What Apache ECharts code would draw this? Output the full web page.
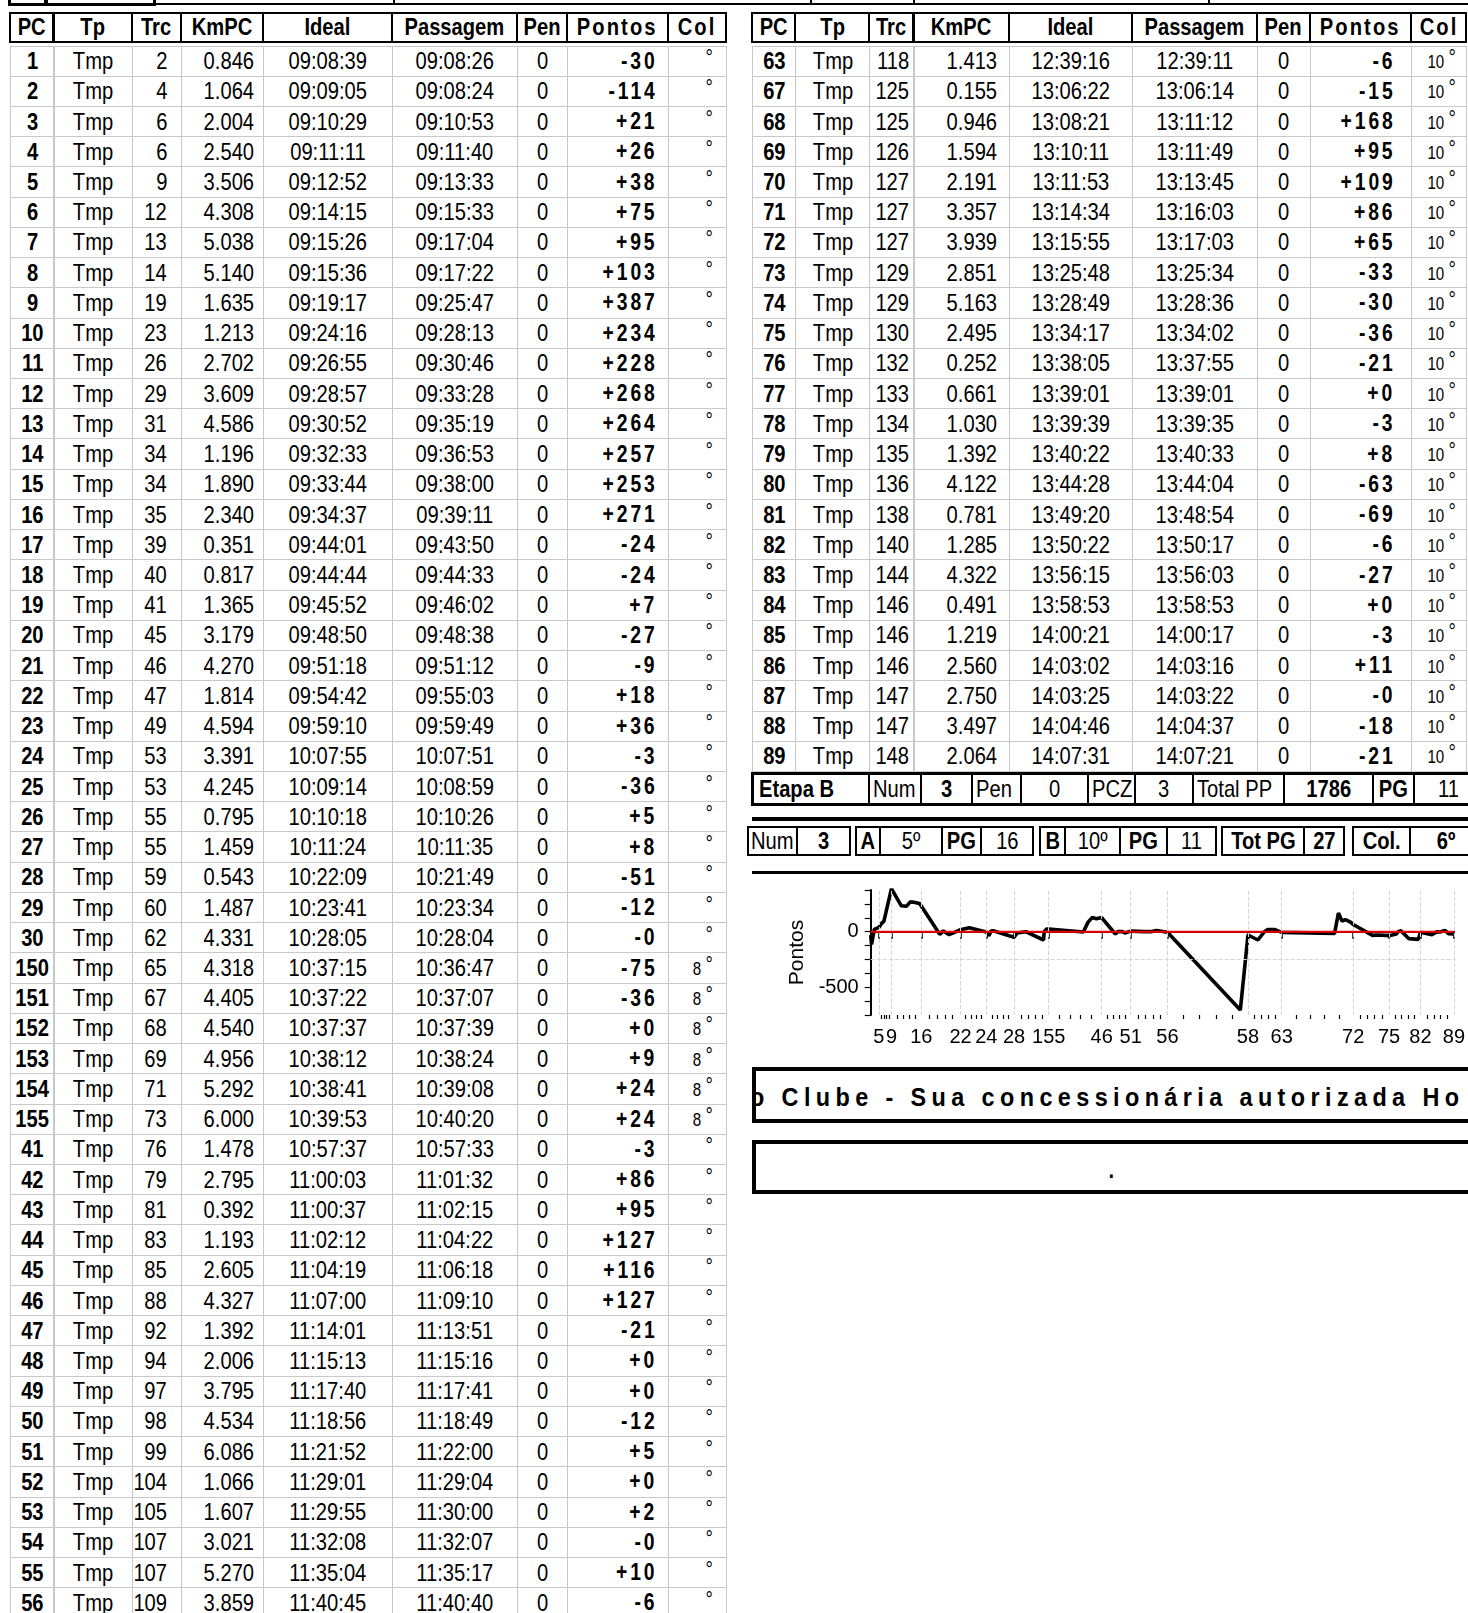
<!DOCTYPE html>
<html><head><meta charset="utf-8">
<script src="https://cdn.jsdelivr.net/npm/echarts/dist/echarts.min.js"></script>
<style>
html,body{margin:0;padding:0;background:#fff;}
body{width:1468px;height:1613px;overflow:hidden;position:relative;font-family:"Liberation Sans",Arial,sans-serif;color:#000;}
.c{position:absolute;box-sizing:border-box;white-space:nowrap;display:flex;align-items:center;}
.t{display:inline-block;flex-shrink:0;line-height:1;}
.ln{position:absolute;background:#000;}
#chart{position:absolute;left:752px;top:874px;width:716px;height:190px;}
</style></head><body>
<div id="chart"></div>
<script>
// ---------------- data ----------------
const headers = ['PC','Tp','Trc','KmPC','Ideal','Passagem','Pen','Pontos','Col'];
const tpText = 'Tmp';
const penText = '0';

const leftPC = [1,2,3,4,5,6,7,8,9,10,11,12,13,14,15,16,17,18,19,20,21,22,23,24,25,26,27,28,29,30,150,151,152,153,154,155,41,42,43,44,45,46,47,48,49,50,51,52,53,54,55,56];
const leftTrc = [2,4,6,6,9,12,13,14,19,23,26,29,31,34,34,35,39,40,41,45,46,47,49,53,53,55,55,59,60,62,65,67,68,69,71,73,76,79,81,83,85,88,92,94,97,98,99,104,105,107,107,109];
const leftKm = ['0.846','1.064','2.004','2.540','3.506','4.308','5.038','5.140','1.635','1.213','2.702','3.609','4.586','1.196','1.890','2.340','0.351','0.817','1.365','3.179','4.270','1.814','4.594','3.391','4.245','0.795','1.459','0.543','1.487','4.331','4.318','4.405','4.540','4.956','5.292','6.000','1.478','2.795','0.392','1.193','2.605','4.327','1.392','2.006','3.795','4.534','6.086','1.066','1.607','3.021','5.270','3.859'];
const leftIdeal = ['09:08:39','09:09:05','09:10:29','09:11:11','09:12:52','09:14:15','09:15:26','09:15:36','09:19:17','09:24:16','09:26:55','09:28:57','09:30:52','09:32:33','09:33:44','09:34:37','09:44:01','09:44:44','09:45:52','09:48:50','09:51:18','09:54:42','09:59:10','10:07:55','10:09:14','10:10:18','10:11:24','10:22:09','10:23:41','10:28:05','10:37:15','10:37:22','10:37:37','10:38:12','10:38:41','10:39:53','10:57:37','11:00:03','11:00:37','11:02:12','11:04:19','11:07:00','11:14:01','11:15:13','11:17:40','11:18:56','11:21:52','11:29:01','11:29:55','11:32:08','11:35:04','11:40:45'];
const leftPass = ['09:08:26','09:08:24','09:10:53','09:11:40','09:13:33','09:15:33','09:17:04','09:17:22','09:25:47','09:28:13','09:30:46','09:33:28','09:35:19','09:36:53','09:38:00','09:39:11','09:43:50','09:44:33','09:46:02','09:48:38','09:51:12','09:55:03','09:59:49','10:07:51','10:08:59','10:10:26','10:11:35','10:21:49','10:23:34','10:28:04','10:36:47','10:37:07','10:37:39','10:38:24','10:39:08','10:40:20','10:57:33','11:01:32','11:02:15','11:04:22','11:06:18','11:09:10','11:13:51','11:15:16','11:17:41','11:18:49','11:22:00','11:29:04','11:30:00','11:32:07','11:35:17','11:40:40'];
const leftPontos = ['-30','-114','+21','+26','+38','+75','+95','+103','+387','+234','+228','+268','+264','+257','+253','+271','-24','-24','+7','-27','-9','+18','+36','-3','-36','+5','+8','-51','-12','-0','-75','-36','+0','+9','+24','+24','-3','+86','+95','+127','+116','+127','-21','+0','+0','-12','+5','+0','+2','-0','+10','-6'];
const leftCol = ['','','','','','','','','','','','','','','','','','','','','','','','','','','','','','','8','8','8','8','8','8','','','','','','','','','','','','','','','',''];

// rows hidden below the page
const hidPC = [57,58,59,60,61,62];
const hidIdeal = ['12:18:05','12:22:00','12:27:05','12:30:26','12:32:10','12:35:31'];
const hidPontos = [-705,-30,-75,0,20,20];

const rightPC = [63,67,68,69,70,71,72,73,74,75,76,77,78,79,80,81,82,83,84,85,86,87,88,89];
const rightTrc = [118,125,125,126,127,127,127,129,129,130,132,133,134,135,136,138,140,144,146,146,146,147,147,148];
const rightKm = ['1.413','0.155','0.946','1.594','2.191','3.357','3.939','2.851','5.163','2.495','0.252','0.661','1.030','1.392','4.122','0.781','1.285','4.322','0.491','1.219','2.560','2.750','3.497','2.064'];
const rightIdeal = ['12:39:16','13:06:22','13:08:21','13:10:11','13:11:53','13:14:34','13:15:55','13:25:48','13:28:49','13:34:17','13:38:05','13:39:01','13:39:39','13:40:22','13:44:28','13:49:20','13:50:22','13:56:15','13:58:53','14:00:21','14:03:02','14:03:25','14:04:46','14:07:31'];
const rightPass = ['12:39:11','13:06:14','13:11:12','13:11:49','13:13:45','13:16:03','13:17:03','13:25:34','13:28:36','13:34:02','13:37:55','13:39:01','13:39:35','13:40:33','13:44:04','13:48:54','13:50:17','13:56:03','13:58:53','14:00:17','14:03:16','14:03:22','14:04:37','14:07:21'];
const rightPontos = ['-6','-15','+168','+95','+109','+86','+65','-33','-30','-36','-21','+0','-3','+8','-63','-69','-6','-27','+0','-3','+11','-0','-18','-21'];
const rightCol = ['10','10','10','10','10','10','10','10','10','10','10','10','10','10','10','10','10','10','10','10','10','10','10','10'];

const etapaLabels = ['Etapa B','Num','3','Pen','0','PCZ','3','Total PP','1786','PG','11'];
const etapaBold = [1,0,1,0,0,0,0,0,1,1,0];
const numGroups = [
  {t:['Num','3'], b:[0,1]},
  {t:['A','5º','PG','16'], b:[1,0,1,0]},
  {t:['B','10º','PG','11'], b:[1,0,1,0]},
  {t:['Tot PG','27'], b:[1,1]},
  {t:['Col.','6º'], b:[1,1]}
];
const bannerText = 'o Clube - Sua concessionária autorizada Ho';
const dotText = '.';

const axisLabelPCs = [5,9,16,22,24,28,155,46,51,56,58,63,72,75,82,89];

// ---------------- layout helpers ----------------
const B = document.body;
function cell(x1,y1,x2,y2,html,o){
  o=o||{};
  const d=document.createElement('div');
  d.className='c';
  d.style.left=x1+'px';d.style.top=y1+'px';
  d.style.width=(x2-x1)+'px';d.style.height=(y2-y1)+'px';
  if(o.border) d.style.border=o.border;
  const al=o.align||'center';
  d.style.justifyContent= al==='left'?'flex-start':(al==='right'?'flex-end':'center');
  if(o.pad!=null){ if(al==='right') d.style.paddingRight=o.pad+'px'; else if(al==='left') d.style.paddingLeft=o.pad+'px'; }
  if(html!==undefined && html!==''){
    const s=document.createElement('span');
    s.className='t';
    s.style.fontSize=(o.size||24)+'px';
    s.style.fontWeight=o.bold?'bold':'normal';
    if(o.ls) s.style.letterSpacing=o.ls+'px';
    s.style.transform='scaleX('+(o.sx||0.84)+')';
    s.style.transformOrigin= al==='left'?'left center':(al==='right'?'right center':'center center');
    if(o.dy) {s.style.position='relative';s.style.top=o.dy+'px';}
    s.innerHTML=html;
    d.appendChild(s);
  }
  B.appendChild(d);
  return d;
}
function line(x1,y1,x2,y2){
  const d=document.createElement('div');d.className='ln';
  d.style.left=x1+'px';d.style.top=y1+'px';d.style.width=(x2-x1)+'px';d.style.height=(y2-y1)+'px';
  B.appendChild(d);
}
function sec(s){const p=s.split(':').map(Number);return p[0]*3600+p[1]*60+p[2];}
function degHtml(v,size){
  return (v?v+' ':'&nbsp;')+'<span style="font-size:'+size+'px;position:relative;top:-3px">°</span>';
}

// ---------------- top strip (row above, cut off) ----------------
(function(){
  cell(8,-12,47,6,'',{border:'3px solid #000'});
  cell(45,-12,156,6,'',{border:'3px solid #000'});
  line(156,3,1468,5);
  [393,810,913,1208].forEach(x=>line(x,0,x+1.5,5));
})();

// ---------------- tables ----------------
const HT=12, HB=42.5, BT=45.5, RH=30.23;
function drawTable(E, pc, trc, km, ideal, pass, pontos, col, p){
  headers.forEach((h,i)=>{
    cell(E[i]-1,HT,E[i+1]+1,HB,h,{border:'2px solid #000',bold:true,size:24,ls:(h==='Pontos'||h==='Col')?2.5:0});
  });
  pc.forEach((v,r)=>{
    const y1=BT+r*RH, y2=y1+RH+1;
    const bd='1px solid #c8c8c8';
    cell(E[0],y1,E[1]+1,y2,String(v),{border:bd,bold:true});
    cell(E[1],y1,E[2]+1,y2,tpText,{border:bd});
    cell(E[2],y1,E[3]+1,y2,String(trc[r]),{border:bd,align:'right',pad:p.trc});
    cell(E[3],y1,E[4]+1,y2,km[r],{border:bd,align:'right',pad:p.km});
    cell(E[4],y1,E[5]+1,y2,ideal[r],{border:bd});
    cell(E[5],y1,E[6]+1,y2,pass[r],{border:bd});
    cell(E[6],y1,E[7]+1,y2,penText,{border:bd});
    cell(E[7],y1,E[8]+1,y2,pontos[r],{border:bd,align:'right',pad:p.pt,bold:true,ls:3.5,size:23});
    cell(E[8],y1,E[9]+1,y2,degHtml(col[r],22),{border:bd,align:'right',pad:p.col,size:18});
  });
}
const LE=[10.3,53.5,131.7,181,263.3,392,517.4,566.8,667.6,726.3];
const RE=[752,795.2,869.2,913.5,1009.2,1131.6,1257,1309.5,1411.4,1466];
drawTable(LE,leftPC,leftTrc,leftKm,leftIdeal,leftPass,leftPontos,leftCol,{trc:14,km:9,pt:10,col:13});
drawTable(RE,rightPC,rightTrc,rightKm,rightIdeal,rightPass,rightPontos,rightCol,{trc:4,km:12,pt:16,col:10});

// ---------------- Etapa row ----------------
const etapaE=[752,869,921,972,1021,1088,1135,1193,1284,1373,1414,1482];
etapaLabels.forEach((t,i)=>{
  const isLab=(i===0||i===1||i===3||i===5||i===7);
  cell(etapaE[i]-1,773,etapaE[i+1]+1,805,t,{border:'2px solid #000',bold:!!etapaBold[i],align:isLab?'left':'center',pad:i===0?6:3});
});
cell(751,772,1490,806,'',{border:'3px solid #000'});
line(752,817,1468,821);

// ---------------- Num row ----------------
const groupE=[[748,797,850],[856,880,942,981,1033],[1040,1065,1120,1167,1216],[1222,1304,1344],[1353,1410,1482]];
numGroups.forEach((g,gi)=>{
  const E=groupE[gi];
  g.t.forEach((t,i)=>{
    cell(E[i]-1,826,E[i+1]+1,856,t,{border:'2px solid #000',bold:!!g.b[i]});
  });
});
line(752,871,1468,873.5);

// ---------------- banner boxes ----------------
(function(){
  const d=cell(752,1067,1490,1123,'',{border:'4px solid #000'});
  d.style.overflow='hidden';
  const s=document.createElement('span');
  s.className='t';
  s.style.position='absolute';s.style.left='-6px';s.style.top='13px';
  s.style.fontSize='26px';s.style.fontWeight='bold';s.style.letterSpacing='6px';
  s.style.transform='scaleX(0.9)';s.style.transformOrigin='left center';
  s.textContent=bannerText;
  d.appendChild(s);
  cell(752,1140,1490,1194,'',{border:'4px solid #000'});
  cell(1091,1146,1131,1194,dotText,{bold:true,size:24});
})();

// ---------------- chart ----------------
const chartPC=[...leftPC,...hidPC,...rightPC];
const chartT=[...leftIdeal,...hidIdeal,...rightIdeal].map(sec);
const chartV=[...leftPontos.map(Number),...hidPontos,...rightPontos.map(Number)];
const lineData=chartT.map((t,i)=>[t,chartV[i]]);
const tMin=chartT[0], tMax=chartT[chartT.length-1];
const zeroLine=[[tMin,0],[tMax,0]];
const labelOf={};
const majorT=axisLabelPCs.map(pc=>{const t=chartT[chartPC.indexOf(pc)];labelOf[t]=String(pc);return t;});
const minorT=[];
for(let i=0;i<majorT.length-1;i++){
  for(let k=1;k<5;k++) minorT.push(majorT[i]+(majorT[i+1]-majorT[i])*k/5);
}
const ch=echarts.init(document.getElementById('chart'),null,{renderer:'canvas'});
const F='"Liberation Sans", Arial, sans-serif';
ch.setOption({
  animation:false,
  grid:{left:118.7,top:16,width:589,height:125,containLabel:false},
  xAxis:[
    {type:'value',min:tMin,max:tMax,
     axisLine:{show:true,lineStyle:{color:'#000',width:2}},
     axisTick:{show:true,customValues:majorT,length:7,lineStyle:{color:'#000',width:1.5}},
     axisLabel:{show:true,customValues:majorT,formatter:v=>labelOf[v]||'',fontSize:20,color:'#000',fontFamily:F,margin:12},
     splitLine:{show:false}},
    {type:'value',min:tMin,max:tMax,position:'bottom',
     axisLine:{show:false},
     axisTick:{show:true,customValues:minorT,length:4,lineStyle:{color:'#000',width:1.2}},
     axisLabel:{show:false},splitLine:{show:false}}
  ],
  yAxis:{type:'value',min:-750,max:375,interval:125,
    name:'Pontos',nameLocation:'middle',nameGap:62,
    nameTextStyle:{fontSize:21,color:'#000',fontFamily:F},
    axisLine:{show:true,lineStyle:{color:'#000',width:2}},
    axisTick:{show:true,length:6,lineStyle:{color:'#000',width:1.2}},
    axisLabel:{formatter:v=>(v===0||v===-500)?String(v):'',fontSize:20,color:'#000',fontFamily:F,margin:12},
    splitLine:{show:false}},
  series:[
    {type:'line',data:zeroLine,symbol:'none',lineStyle:{opacity:0},z:1,silent:true,
     markLine:{silent:true,symbol:['none','none'],label:{show:false},animation:false,
       lineStyle:{type:'dashed',color:'#d4d4d4',width:1},
       data:[...majorT.map(v=>({xAxis:v})),{yAxis:-250}]}},
    {type:'line',data:lineData,symbol:'none',lineStyle:{color:'#000',width:3.6},z:3,silent:true},
    {type:'line',data:zeroLine,symbol:'none',lineStyle:{color:'#ee0000',width:2},z:4,silent:true}
  ]
});
</script>
</body></html>
